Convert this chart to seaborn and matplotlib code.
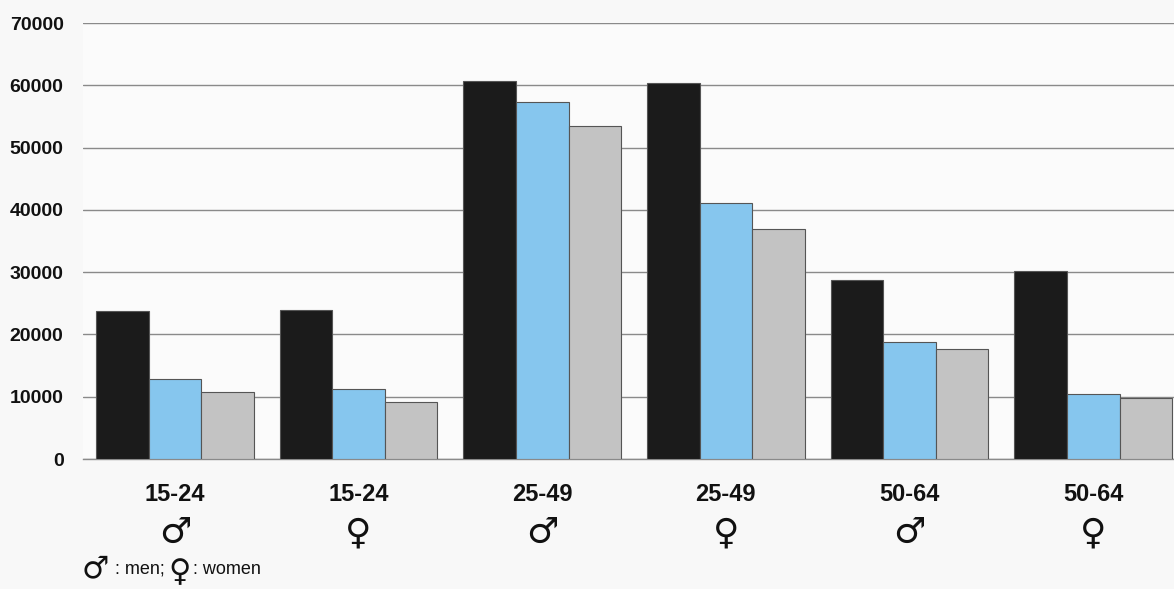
import matplotlib
matplotlib.use("Agg")
import matplotlib.pyplot as plt
import matplotlib.transforms as mtransforms
import seaborn as sns
import pandas as pd

# values
age_groups = ["15-24", "15-24", "25-49", "25-49", "50-64", "50-64"]
sexes = ["♂", "♀", "♂", "♀", "♂", "♀"]
series_names = ["series 1", "series 2", "series 3"]
series_1 = [23800, 23900, 60700, 60400, 28700, 30200]
series_2 = [12900, 11300, 57300, 41100, 18800, 10500]
series_3 = [10800, 9200, 53500, 37000, 17700, 9800]
y_ticks = [0, 10000, 20000, 30000, 40000, 50000, 60000, 70000]

colors = ["#1b1b1b", "#86c6ee", "#c3c3c3"]

groups = [f"{a} {s}" for a, s in zip(age_groups, sexes)]
rows = []
for name, vals in zip(series_names, [series_1, series_2, series_3]):
    for g, v in zip(groups, vals):
        rows.append({"group": g, "series": name, "value": v})
df = pd.DataFrame(rows)

sns.set_style("white")
plt.rcParams['font.family'] = ['Liberation Sans', 'DejaVu Sans']

fig = plt.figure(figsize=(11.74, 5.89), dpi=100, facecolor="#f8f8f8")
ax = fig.add_axes([83 / 1174, 130 / 589, 1 - 83 / 1174, 436 / 589])
ax.set_facecolor("#fbfbfb")

sns.barplot(data=df, x="group", y="value", hue="series", palette=colors,
            saturation=1, width=0.86, gap=0, edgecolor="#555555",
            linewidth=0.8, legend=False, ax=ax, zorder=3)

ax.set_ylim(0, 70000)
ax.set_xlim(-0.5, 5.44)
ax.set_yticks(y_ticks)
ax.set_yticklabels([str(t) for t in y_ticks], fontsize=14,
                   fontweight="bold", color="#111111")
ax.yaxis.grid(True, color="#8a8a8a", linewidth=1.0, zorder=0)
ax.tick_params(axis="y", length=0, pad=14)
ax.tick_params(axis="x", length=0, pad=17)
ax.set_xticks(range(len(groups)))
ax.set_xticklabels(age_groups, fontsize=17, fontweight="bold",
                   color="#111111")
ax.set_xlabel("")
ax.set_ylabel("")
for side in ["left", "right", "top"]:
    ax.spines[side].set_visible(False)
ax.spines["bottom"].set_color("#8a8a8a")
ax.spines["bottom"].set_linewidth(1.0)

# sex symbols under the age labels
trans = mtransforms.blended_transform_factory(ax.transData, ax.transAxes)
for i, s in enumerate(sexes):
    ax.text(i, -0.17, s, transform=trans, ha="center", va="center",
            fontsize=26, family="DejaVu Sans", color="#111111")

# note at the bottom
fig.text(82 / 1174, 1 - 569 / 589, "♂", fontsize=22, family="DejaVu Sans",
         va="center", ha="left", color="#111111")
fig.text(115 / 1174, 1 - 569 / 589, ": men;", fontsize=13,
         va="center", ha="left", color="#111111")
fig.text(168 / 1174, 1 - 573 / 589, "♀", fontsize=22, family="DejaVu Sans",
         va="center", ha="left", color="#111111")
fig.text(193 / 1174, 1 - 569 / 589, ": women", fontsize=13,
         va="center", ha="left", color="#111111")

fig.savefig("out.png", dpi=100, facecolor=fig.get_facecolor())
